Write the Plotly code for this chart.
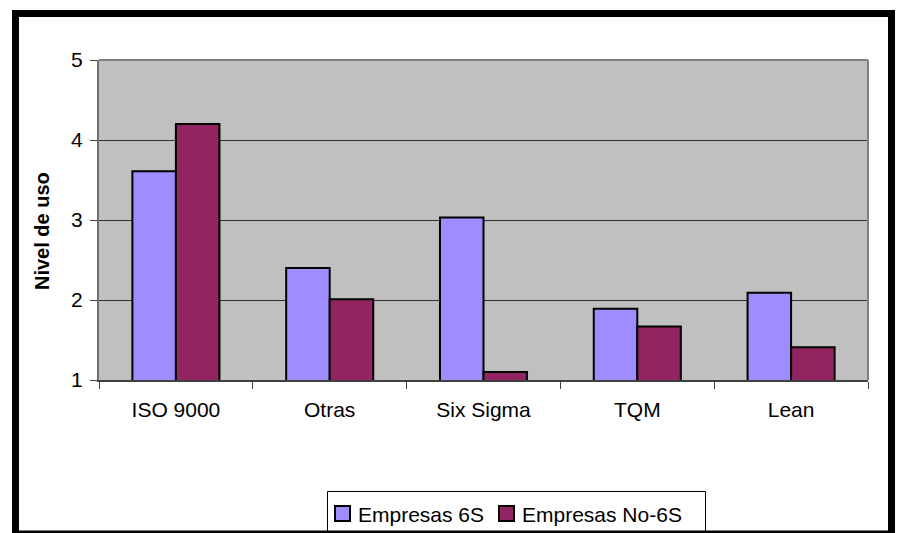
import plotly.graph_objects as go

# Usage level of quality methodologies, by company group
categorias = ["ISO 9000", "Otras", "Six Sigma", "TQM", "Lean"]
empresas_6s = [3.61, 2.40, 3.03, 1.89, 2.09]
empresas_no_6s = [4.20, 2.01, 1.10, 1.67, 1.41]
ticks_y = [1, 2, 3, 4, 5]

nombres = ["Empresas 6S", "Empresas No-6S"]
colores = ["#A08CFF", "#922461"]

FONT = "Liberation Sans, Arial, sans-serif"

fig = go.Figure()
for nombre, valores, color in zip(nombres, [empresas_6s, empresas_no_6s], colores):
    fig.add_trace(go.Bar(
        x=categorias, y=valores, name=nombre, base=0,
        marker=dict(color=color, line=dict(color="black", width=2)),
    ))

L, R, T, B = 99, 32, 60, 153
W, H = 900, 533
pw, ph = W - L - R, H - T - B


def px_x(px):
    return (px - L) / pw


def px_y(py):
    return (H - B - py) / ph


shapes = [
    # plot-area border (top and right edges)
    dict(type="line", xref="paper", yref="paper", x0=0, x1=1, y0=1, y1=1,
         line=dict(color="#808080", width=2)),
    dict(type="line", xref="paper", yref="paper", x0=1, x1=1, y0=0, y1=1,
         line=dict(color="#808080", width=2)),
    # legend box
    dict(type="rect", xref="paper", yref="paper",
         x0=px_x(327.5), x1=px_x(705.5), y0=px_y(545), y1=px_y(491.5),
         fillcolor="white", line=dict(color="black", width=1)),
]
annotations = [dict(
    text="<b>Nivel de uso</b>", textangle=-90,
    xref="paper", yref="paper",
    x=px_x(42), y=px_y(231),
    xanchor="center", yanchor="middle", showarrow=False,
    font=dict(family=FONT, size=20, color="black"),
)]

# legend swatches and labels
for (sx, tx), nombre, color in zip([(335, 356), (499, 520)], nombres, colores):
    shapes.append(dict(
        type="rect", xref="paper", yref="paper",
        x0=px_x(sx), x1=px_x(sx + 15), y0=px_y(521), y1=px_y(506),
        fillcolor=color, line=dict(color="black", width=2),
    ))
    annotations.append(dict(
        text=nombre, xref="paper", yref="paper",
        x=px_x(tx), y=px_y(514), xanchor="left", yanchor="middle",
        showarrow=False, font=dict(family=FONT, size=21, color="black"),
    ))

# thick outer frame
shapes.append(dict(
    type="rect", xref="paper", yref="paper",
    x0=px_x(15.5), x1=px_x(891.5), y0=px_y(534), y1=px_y(13.5),
    line=dict(color="black", width=7),
))

fig.update_layout(
    width=W, height=H,
    margin=dict(l=L, r=R, t=T, b=B, autoexpand=False),
    paper_bgcolor="white",
    plot_bgcolor="#C0C0C0",
    barmode="group",
    bargap=0.434,
    bargroupgap=0,
    font=dict(family=FONT, size=21, color="black"),
    showlegend=False,
    xaxis=dict(
        type="category",
        showline=True, linecolor="#404040", linewidth=2,
        ticks="outside", tickson="boundaries", ticklen=7,
        tickcolor="#404040", tickwidth=1,
        tickfont=dict(family=FONT, size=21),
        ticklabelstandoff=10,
        showgrid=False,
    ),
    yaxis=dict(
        range=[1, 5],
        tickvals=ticks_y,
        showline=True, linecolor="#707070", linewidth=2,
        ticks="outside", ticklen=7, tickcolor="#404040", tickwidth=1,
        tickfont=dict(family=FONT, size=21),
        ticklabelstandoff=3,
        showgrid=True, gridcolor="#303030", gridwidth=1,
        zeroline=False,
    ),
    annotations=annotations,
    shapes=shapes,
)

fig.write_html("out.html")
